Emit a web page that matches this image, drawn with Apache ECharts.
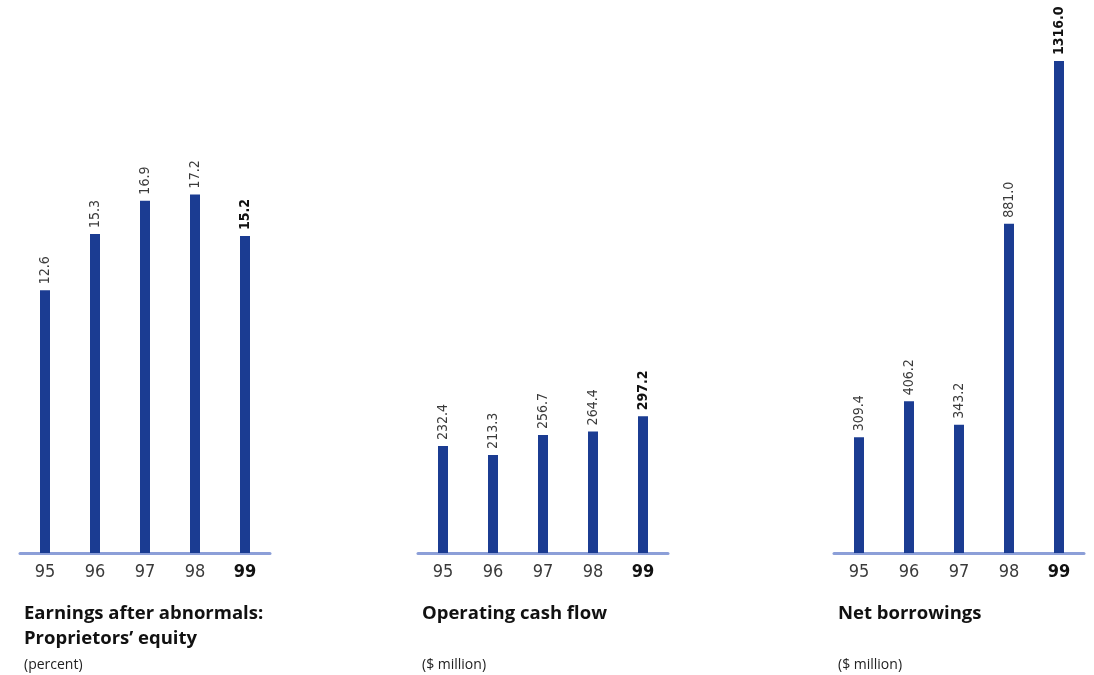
<!DOCTYPE html>
<html>
<head>
<meta charset="utf-8">
<script src="https://cdn.jsdelivr.net/npm/echarts@6/dist/echarts.min.js"></script>
<style>
  html, body { margin: 0; padding: 0; background: #ffffff; }
  #chart { width: 1094px; height: 675px; }
</style>
</head>
<body>
<div id="chart"></div>
<script>
// ---- data ----
const years = ['95', '96', '97', '98', '99'];
const earnings = [12.6, 15.3, 16.9, 17.2, 15.2];
const cashFlow = [232.4, 213.3, 256.7, 264.4, 297.2];
const borrowings = [309.4, 406.2, 343.2, 881.0, 1316.0];
const panelTitles = ['Earnings after abnormals:\nProprietors\u2019 equity', 'Operating cash flow', 'Net borrowings'];
const panelUnits = ['(percent)', '($ million)', '($ million)'];
const yMax = [20, 600, 1450];

// ---- styles ----
const barColor = '#1b3c92';
const axisColor = '#8c9fd8';
const textColor = '#3a3a3a';
const narrow = '"Liberation Sans Narrow", "DejaVu Sans Condensed", "Liberation Sans", sans-serif';
const titleFont = '"Open Sans", "Noto Sans", sans-serif';

const lastIdx = years.length - 1;
const seriesData = [earnings, cashFlow, borrowings];
const grids = [
  { left: 20, width: 250, top: 136, bottom: 122 },
  { left: 418, width: 250, top: 277, bottom: 122 },
  { left: 834, width: 250, top: 11, bottom: 122 }
];
const titleLefts = [24, 422, 838];

const option = {
  backgroundColor: '#ffffff',
  animation: false,
  title: [].concat(
    panelTitles.map((t, i) => ({
      text: t, left: titleLefts[i], top: 601, padding: 0,
      textStyle: { fontFamily: titleFont, fontSize: 18.5, fontWeight: 'bold', color: '#111', lineHeight: 25 }
    })),
    panelUnits.map((t, i) => ({
      text: t, left: titleLefts[i], top: 658, padding: 0,
      textStyle: { fontFamily: titleFont, fontSize: 14, fontWeight: 'normal', color: '#222' }
    }))
  ),
  grid: grids,
  xAxis: grids.map((g, i) => ({
    type: 'category', gridIndex: i, data: years, boundaryGap: true,
    axisLine: { show: true, lineStyle: { color: axisColor, width: 3 } },
    axisTick: { show: false },
    axisLabel: {
      interval: 0, margin: 10, color: textColor, fontFamily: narrow, fontSize: 18,
      formatter: (v, idx) => idx === lastIdx ? '{b|' + v + '}' : v,
      rich: { b: { fontWeight: 'bold', fontSize: 18, color: '#111', fontFamily: narrow } }
    }
  })),
  yAxis: grids.map((g, i) => ({
    type: 'value', gridIndex: i, min: 0, max: yMax[i], show: false
  })),
  series: seriesData.map((arr, i) => ({
    type: 'bar', xAxisIndex: i, yAxisIndex: i, barWidth: 10,
    itemStyle: { color: barColor },
    label: {
      show: true, position: 'top', rotate: 90, align: 'left', verticalAlign: 'middle',
      distance: 6, color: textColor, fontFamily: narrow, fontSize: 14,
      formatter: p => p.value.toFixed(1)
    },
    data: arr.map((v, j) => j === lastIdx
      ? { value: v, label: { fontWeight: 'bold', color: '#111' } }
      : v)
  }))
};

const chart = echarts.init(document.getElementById('chart'), null, { renderer: 'canvas' });
chart.setOption(option);
</script>
</body>
</html>
